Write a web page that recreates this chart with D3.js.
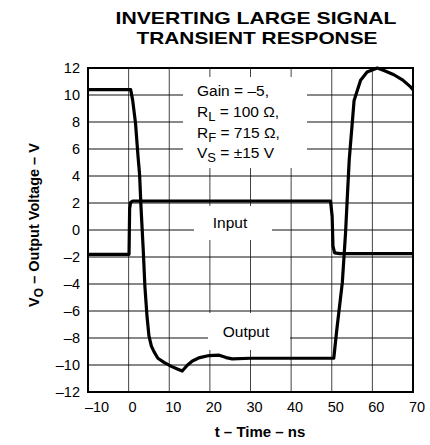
<!DOCTYPE html>
<html>
<head>
<meta charset="utf-8">
<script src="https://cdn.jsdelivr.net/npm/d3@7"></script>
<style>
  body { margin: 0; background: #fff; }
  text { font-family: "Liberation Sans", Arial, sans-serif; fill: #000; }
</style>
</head>
<body>
<svg id="chart" width="430" height="445"></svg>
<script>
// tick values
const xTicks = [-10, 0, 10, 20, 30, 40, 50, 60, 70]
const yTicks = [-12, -10, -8, -6, -4, -2, 0, 2, 4, 6, 8, 10, 12]

// input pulse (ns, V)
const inputT = [-10, 0.1, 0.25, 0.5, 1.0, 49.7, 50.1, 50.3, 50.7, 52, 70]
const inputV = [-1.8, -1.8, 1.6, 2.05, 2.15, 2.15, 1.0, -1.2, -1.7, -1.75, -1.75]

// output response (ns, V)
const outputT = [-10, -5, 0, 0.5, 1.0, 1.7, 2.3, 2.7, 3.0, 3.2, 3.6, 4.0, 4.5, 5.0, 5.6, 6.3, 7.2, 8.7, 10.5, 12, 13.2,
                 14.5, 15.7, 17.5, 19.8, 22.3, 24, 25.5, 30, 35, 40, 45, 50.5, 51.2, 52.6, 53.4, 53.8, 54.3, 55.5,
                 57.1, 58.7, 61.2, 63, 65.3, 67.5, 69.4, 70]
const outputV = [10.4, 10.4, 10.4, 10.4, 9.6, 7.9, 5.5, 4.1, 2.0, 0.8, -1.5, -4.15, -6.3, -7.85, -8.6, -9.05, -9.5, -9.8, -10.1, -10.3, -10.45,
                 -10.0, -9.7, -9.45, -9.3, -9.27, -9.45, -9.55, -9.5, -9.5, -9.5, -9.5, -9.5, -7.5, -3.9, -0.2, 2.25, 5.2, 9.6,
                 11.1, 11.7, 12.0, 11.8, 11.5, 11.1, 10.6, 10.4]

const legendLines = [
  ["Gain = \u20135,", ""],
  ["R", "L", " = 100 \u03A9,"],
  ["R", "F", " = 715 \u03A9,"],
  ["V", "S", " = \u00B115 V"]
]

const pLeft = 88, pRight = 413, pTop = 68, pBottom = 392

const svg = d3.select("#chart")

const x = d3.scaleLinear().domain([-10, 70]).range([pLeft, pRight])
const y = d3.scaleLinear().domain([-12, 12]).range([pBottom, pTop])

// grid
svg.append("g")
  .selectAll("line")
  .data(xTicks.slice(1, -1))
  .enter()
  .append("line")
  .attr("x1", d => x(d)).attr("x2", d => x(d))
  .attr("y1", pTop).attr("y2", pBottom)
  .attr("stroke", "#444").attr("stroke-width", 1)

svg.append("g")
  .selectAll("line")
  .data(yTicks.slice(1, -1))
  .enter()
  .append("line")
  .attr("x1", pLeft).attr("x2", pRight)
  .attr("y1", d => y(d)).attr("y2", d => y(d))
  .attr("stroke", "#111").attr("stroke-width", 1)

// white boxes behind the notes
const boxes = [
  [183, 77, 124, 91],
  [194, 206, 78, 34],
  [208, 313, 82, 37]
]
svg.append("g")
  .selectAll("rect")
  .data(boxes)
  .enter()
  .append("rect")
  .attr("x", d => d[0]).attr("y", d => d[1])
  .attr("width", d => d[2]).attr("height", d => d[3])
  .attr("fill", "#fff")

// frame
svg.append("rect")
  .attr("x", pLeft).attr("y", pTop)
  .attr("width", pRight - pLeft).attr("height", pBottom - pTop)
  .attr("fill", "none").attr("stroke", "#000").attr("stroke-width", 2)

// curves
const line = d3.line()
  .x(d => x(d[0]))
  .y(d => y(d[1]))

svg.append("path")
  .datum(d3.zip(inputT, inputV))
  .attr("d", line)
  .attr("fill", "none").attr("stroke", "#000")
  .attr("stroke-width", 3.2).attr("stroke-linejoin", "round")

svg.append("path")
  .datum(d3.zip(outputT, outputV))
  .attr("d", line)
  .attr("fill", "none").attr("stroke", "#000")
  .attr("stroke-width", 3.2).attr("stroke-linejoin", "round")

// tick labels
const fmt = d => d < 0 ? "\u2013" + Math.abs(d) : String(d)

svg.append("g")
  .selectAll("text")
  .data(yTicks)
  .enter()
  .append("text")
  .attr("x", 80)
  .attr("y", d => y(d))
  .attr("dy", "0.36em")
  .attr("text-anchor", "end")
  .attr("font-size", 14.5)
  .text(fmt)

svg.append("g")
  .selectAll("text")
  .data(xTicks)
  .enter()
  .append("text")
  .attr("x", d => x(d) + (d < 0 ? 9 : 4))
  .attr("y", 412)
  .attr("text-anchor", "middle")
  .attr("font-size", 14.5)
  .text(fmt)

// axis titles
svg.append("text")
  .attr("x", 260).attr("y", 437)
  .attr("text-anchor", "middle")
  .attr("font-size", 15).attr("font-weight", "bold")
  .text("t \u2013 Time \u2013 ns")

const yt = svg.append("text")
  .attr("transform", "translate(39,225) rotate(-90)")
  .attr("text-anchor", "middle")
  .attr("font-size", 14.5).attr("font-weight", "bold")
yt.append("tspan").text("V")
yt.append("tspan").attr("dy", 4).attr("font-size", 12).text("O")
yt.append("tspan").attr("dy", -4).text(" \u2013 Output Voltage \u2013 V")

// title
svg.append("text")
  .attr("x", 256).attr("y", 24)
  .attr("text-anchor", "middle")
  .attr("font-size", 17).attr("font-weight", "bold")
  .attr("textLength", 281).attr("lengthAdjust", "spacingAndGlyphs")
  .text("INVERTING LARGE SIGNAL")
svg.append("text")
  .attr("x", 257).attr("y", 44)
  .attr("text-anchor", "middle")
  .attr("font-size", 17).attr("font-weight", "bold")
  .attr("textLength", 241).attr("lengthAdjust", "spacingAndGlyphs")
  .text("TRANSIENT RESPONSE")

// legend note
legendLines.forEach((parts, i) => {
  const t = svg.append("text")
    .attr("x", 197).attr("y", 96 + i * 20.8)
    .attr("font-size", 15.5)
  t.append("tspan").text(parts[0])
  if (parts[1]) {
    t.append("tspan").attr("dy", 4).attr("font-size", 13).text(parts[1])
    t.append("tspan").attr("dy", -4).text(parts[2])
  }
})

svg.append("text")
  .attr("x", 230).attr("y", 228)
  .attr("text-anchor", "middle")
  .attr("font-size", 15.5)
  .text("Input")

svg.append("text")
  .attr("x", 246).attr("y", 337)
  .attr("text-anchor", "middle")
  .attr("font-size", 15.5)
  .text("Output")
</script>
</body>
</html>
